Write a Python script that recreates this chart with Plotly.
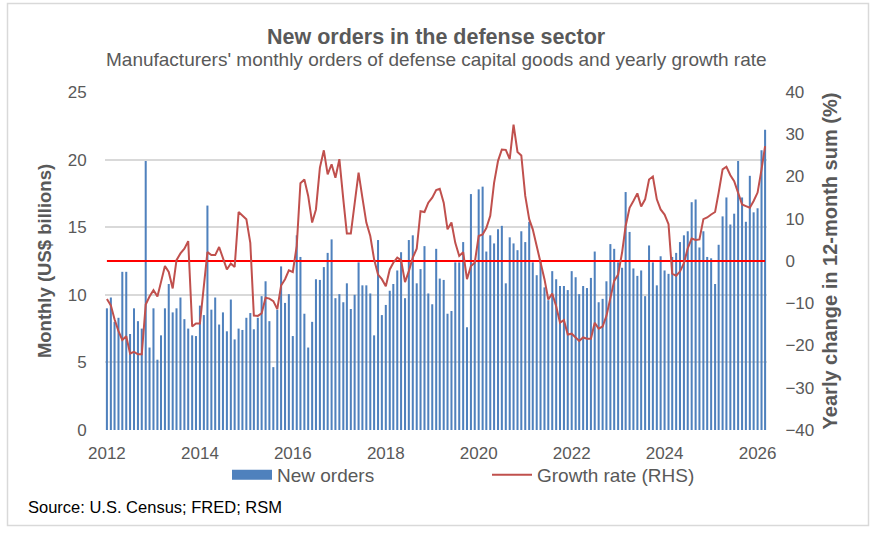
import pandas as pd
import plotly.graph_objects as go

# ---- data (monthly, Jan 2012 onward) ----
START_MONTH = "2012-01-01"

new_orders = [
    9.0, 9.8, 8.0, 8.3, 11.7, 11.7, 7.1, 9.0, 8.05, 7.5, 19.9, 6.1, 9.0, 5.2, 7.0, 9.0, 10.8, 8.7, 9.0, 9.8, 8.2, 7.5, 7.0,
    6.95, 9.2, 8.5, 16.6, 8.9, 9.8, 7.8, 8.7, 7.3, 9.65, 6.7, 7.5, 7.4, 8.3, 8.65, 7.45, 8.3, 9.9, 11.0, 8.05, 4.65, 8.9, 12.1, 9.4, 10.05,
    6.95, 14.4, 12.8, 8.6, 6.1, 8.0, 11.15, 11.1, 12.05, 13.1, 14.1, 9.75, 10.05, 9.45, 10.85, 8.95, 10.0, 12.4, 10.7, 10.7, 10.1, 7.0, 14.05, 8.5,
    9.25, 10.3, 10.8, 11.8, 13.15, 9.75, 14.05, 14.4, 10.85, 11.9, 13.6, 10.1, 9.3, 13.4, 11.2, 11.1, 8.6, 8.8, 12.4, 12.4, 13.9, 7.6, 17.45, 12.4, 17.8,
    18.0, 13.2, 14.4, 13.8, 14.85, 15.1, 10.85, 14.25, 13.8, 13.3, 14.7, 13.9, 15.4, 12.4, 11.45, 12.55, 10.55, 9.6, 11.75, 11.15, 10.65, 10.65, 10.35, 11.75,
    11.3, 10.05, 10.65, 10.5, 11.25, 13.2, 9.45, 9.7, 11.0, 13.75, 13.4, 12.4, 12.0, 17.6, 14.65, 11.95, 11.4, 11.8, 9.9, 13.65, 12.4, 10.7, 12.85, 11.8, 11.55,
    12.8, 13.1, 13.9, 14.4, 14.7, 16.85, 17.05, 13.5, 14.7, 12.8, 12.7, 10.8, 13.7, 15.8, 17.2, 15.2, 16.0, 19.9, 17.2, 15.4, 18.8, 16.1, 16.4, 20.7, 22.2,
]

growth_rate = [
    -9.0, -10.5, -13.8, -16.6, -18.7, -17.8, -21.9, -21.5, -22.1, -22.1, -10.3, -8.4, -6.9, -8.4, -5.0, -1.2, -2.6, -6.5, 0.2, 1.8, 2.9, 4.7, -15.5,
    -14.8, -14.8, -6.0, 2.1, 1.4, 1.4, 3.3, 0.9, -2.0, -0.6, -1.4, 11.6, 10.8, 9.9, 4.3, -12.9, -13.0, -12.4, -8.7, -8.9, -9.5, -11.4, -5.8, -4.3, -2.2,
    -2.6, 3.6, 18.4, 19.3, 15.4, 9.1, 12.2, 22.1, 26.2, 20.5, 22.9, 19.7, 24.1, 14.6, 6.5, 6.5, 13.8, 20.9, 15.0, 9.1, 5.9, 0.4, -3.2, -4.3,
    -6.0, -2.0, -0.4, 0.8, 0.2, -5.0, -2.4, 0.8, 2.9, 11.8, 11.6, 13.8, 15.0, 16.8, 17.1, 13.8, 7.5, 9.1, 4.3, 1.2, 2.1, -4.3, -1.2, -0.4, 5.9,
    6.3, 7.8, 10.7, 18.5, 23.7, 26.4, 26.3, 24.1, 32.3, 25.8, 25.0, 15.4, 9.9, 7.5, 3.6, -0.4, -4.3, -9.1, -7.7, -10.7, -14.6, -14.0, -17.4, -17.2,
    -18.1, -18.9, -18.1, -18.4, -18.4, -14.6, -16.0, -15.5, -13.0, -8.9, -4.7, -3.2, 2.0, 8.3, 12.6, 14.2, 16.0, 12.9, 14.6, 19.3, 20.0, 14.6, 12.2, 11.0, 8.7,
    -3.0, -3.5, -2.5, -0.5, 3.0, 5.3, 5.0, 5.1, 9.9, 10.3, 11.0, 11.6, 16.2, 21.7, 22.3, 20.3, 18.9, 16.2, 13.4, 13.0, 12.6, 14.2, 16.2, 21.7, 27.2,
]

dates = pd.date_range(START_MONTH, periods=len(new_orders), freq="MS")
REFERENCE_LEVEL = 0

TITLE = "New orders in the defense sector"
SUBTITLE = "Manufacturers' monthly orders of defense capital goods and yearly growth rate"
SOURCE = "Source: U.S. Census; FRED; RSM"

FONT = "Arial, 'Liberation Sans', sans-serif"
GREY = "#595959"
BAR_BLUE = "#4F81BD"
LINE_RED = "#C0504D"

fig = go.Figure()

fig.add_trace(go.Bar(
    x=dates, y=new_orders, name="New orders",
    marker=dict(color=BAR_BLUE, line=dict(width=0)),
    width=16 * 24 * 3600 * 1000, showlegend=False, yaxis="y",
))
# legend proxy (wide box like the reference)
fig.add_trace(go.Scatter(
    x=[None], y=[None], mode="lines", name="New orders",
    line=dict(color=BAR_BLUE, width=10), yaxis="y",
))
fig.add_trace(go.Scatter(
    x=[dates[0], dates[-1]], y=[REFERENCE_LEVEL, REFERENCE_LEVEL], mode="lines",
    line=dict(color="#FF0000", width=2), showlegend=False, yaxis="y2", hoverinfo="skip",
))
fig.add_trace(go.Scatter(
    x=dates, y=growth_rate, mode="lines", name="Growth rate (RHS)",
    line=dict(color=LINE_RED, width=2), yaxis="y2",
))

W, H = 877, 535
L, R, T, B = 105, 110, 92, 105
pw, ph = W - L - R, H - T - B

def px_x(p):
    return (p - L) / pw

def px_y(p):
    return (H - B - p) / ph

fig.update_layout(
    width=W, height=H,
    margin=dict(l=L, r=R, t=T, b=B, pad=0),
    paper_bgcolor="white", plot_bgcolor="white",
    font=dict(family=FONT, color=GREY, size=17),
    xaxis=dict(
        type="date", range=["2011-12-17", "2026-03-16"],
        dtick="M24", tick0="2012-01-01", tickformat="%Y",
        showgrid=False, zeroline=False, showline=False,
        ticks="outside", ticklen=8, tickcolor="rgba(0,0,0,0)",
        tickfont=dict(size=17, color=GREY),
    ),
    yaxis=dict(
        range=[0, 25], dtick=5, showgrid=True, gridcolor="#D9D9D9", gridwidth=1.5,
        zeroline=False, showline=False,
        ticks="outside", ticklen=14, tickcolor="rgba(0,0,0,0)",
        tickfont=dict(size=17, color=GREY),
        title=dict(text="<b>Monthly (US$ billions)</b>", font=dict(size=18.5, color=GREY), standoff=11),
    ),
    yaxis2=dict(
        range=[-40, 40], dtick=10, overlaying="y", side="right",
        showgrid=False, zeroline=False, showline=False,
        ticks="outside", ticklen=14, tickcolor="rgba(0,0,0,0)",
        tickfont=dict(size=17, color=GREY),
        title=dict(text="<b>Yearly change in 12-month sum (%)</b>", font=dict(size=20, color=GREY), standoff=9),
    ),
    legend=dict(
        orientation="h", x=px_x(227), xanchor="left", y=px_y(456), yanchor="top",
        font=dict(size=19, color=GREY), entrywidth=205, entrywidthmode="pixels",
        bgcolor="rgba(0,0,0,0)", itemwidth=40,
    ),
    showlegend=True,
    annotations=[
        dict(text="<b>" + TITLE + "</b>", xref="paper", yref="paper",
             x=0.5, y=px_y(37), xanchor="center", yanchor="middle",
             showarrow=False, font=dict(size=21.5, color=GREY)),
        dict(text=SUBTITLE, xref="paper", yref="paper",
             x=0.5, y=px_y(60), xanchor="center", yanchor="middle",
             showarrow=False, font=dict(size=19, color=GREY)),
        dict(text=SOURCE, xref="paper", yref="paper",
             x=px_x(26), y=px_y(507), xanchor="left", yanchor="middle",
             showarrow=False, font=dict(size=16.5, color="#000000")),
    ],
    shapes=[dict(
        type="rect", xref="paper", yref="paper",
        x0=px_x(7.5), x1=px_x(868.5), y0=px_y(525.5), y1=px_y(3.5),
        line=dict(color="#D9D9D9", width=1.5), fillcolor="rgba(0,0,0,0)", layer="below",
    )],
)

fig.write_html("out.html")
